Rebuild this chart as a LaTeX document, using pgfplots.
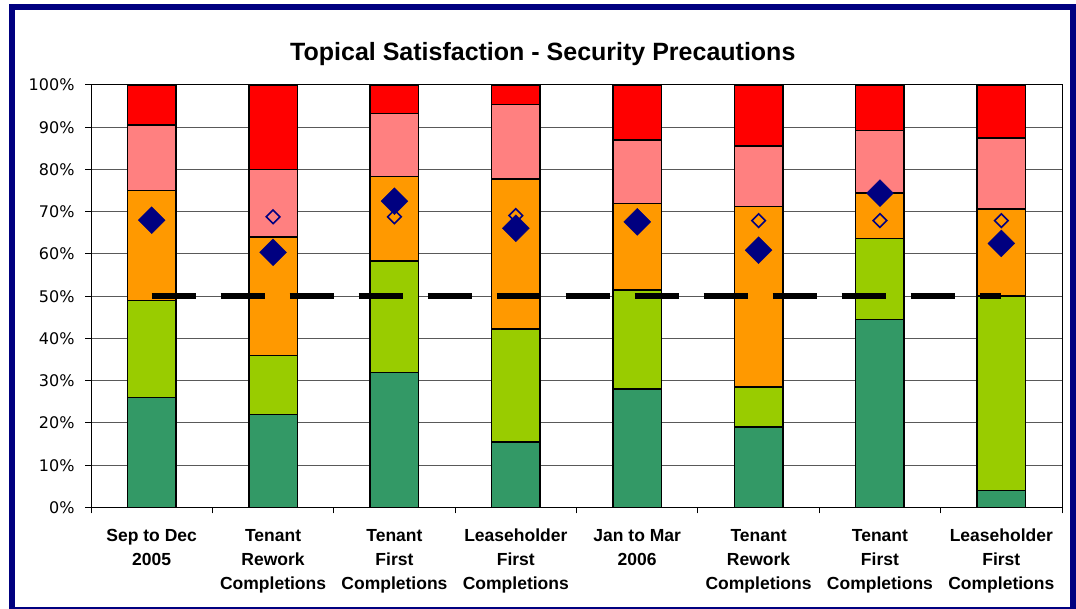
\documentclass[border=0pt]{standalone}
\usepackage{pgfplots}
\pgfplotsset{compat=1.18}
\usepackage{fontspec}
\setmainfont{Liberation Sans}
\newfontfamily\dejavu{DejaVu Sans}
\definecolor{navyc}{RGB}{0,0,128}
\definecolor{dgreen}{HTML}{339966}
\definecolor{ygreen}{HTML}{99CC00}
\definecolor{orangec}{HTML}{FF9900}
\definecolor{pinkc}{HTML}{FF8080}
\definecolor{redc}{HTML}{FF0000}
\begin{document}
\begin{tikzpicture}[x=1bp,y=1bp]
\useasboundingbox (0,0) rectangle (1076,609);
\fill[white] (0,0) rectangle (1076,609);
\pgfplotsset{base/.style={at={(91bp,101.5bp)}, anchor=south west, scale only axis,
  width=971bp, height=422.5bp, xmin=0.5, xmax=8.5, ymin=0, ymax=100, enlargelimits=false}}
\begin{axis}[base, ybar stacked, bar width=0.40,
  axis line style={black, line width=1bp},
  ymajorgrids, grid style={black!65, line width=1bp},
  ytick={0,10,...,100},
  yticklabels={0\%,10\%,20\%,30\%,40\%,50\%,60\%,70\%,80\%,90\%,100\%},
  yticklabel style={font=\dejavu\fontsize{16bp}{19bp}\selectfont, xshift=-7bp},
  xtick={0.5,1.5,...,8.5}, xticklabel={\phantom{0}},
  tick align=outside, major tick length=6bp, tick style={black, line width=1bp},
  ytick pos=left, xtick pos=bottom,
  extra x ticks={1,2,3,4,5,6,7,8},
  extra x tick style={major tick length=0pt},
  extra x tick labels={{Sep to Dec\\2005},{Tenant\\Rework\\Completions},{Tenant\\First\\Completions},{Leaseholder\\First\\Completions},{Jan to Mar\\2006},{Tenant\\Rework\\Completions},{Tenant\\First\\Completions},{Leaseholder\\First\\Completions}},
  xticklabel style={align=center, font=\bfseries\fontsize{17.5bp}{24bp}\selectfont, yshift=-18bp},
]
\addplot[fill=dgreen, draw=black, line width=1.5bp] coordinates {(1,26)(2,22)(3,32)(4,15.5)(5,28)(6,19)(7,44.5)(8,4)};
\addplot[fill=ygreen, draw=black, line width=1.5bp] coordinates {(1,23)(2,14)(3,26.3)(4,26.7)(5,23.5)(6,9.5)(7,19.2)(8,46)};
\addplot[fill=orangec, draw=black, line width=1.5bp] coordinates {(1,26)(2,28)(3,20)(4,35.5)(5,20.5)(6,42.7)(7,10.7)(8,20.7)};
\addplot[fill=pinkc, draw=black, line width=1.5bp] coordinates {(1,15.5)(2,16)(3,15)(4,17.7)(5,15)(6,14.4)(7,14.8)(8,16.7)};
\addplot[fill=redc, draw=black, line width=1.5bp] coordinates {(1,9.5)(2,20)(3,6.7)(4,4.6)(5,13)(6,14.4)(7,10.8)(8,12.6)};
\end{axis}
\begin{axis}[base, hide axis]
\addplot[black, line width=6.5bp, dash pattern=on 44bp off 25bp] coordinates {(1,50)(8,50)};
\addplot[only marks, mark=square, mark size=4.8bp, mark options={rotate=45, draw=navyc, line width=1.6bp, fill=none}] coordinates {(2,68.8)(3,68.8)(4,69.1)(6,67.9)(7,67.9)(8,67.9)};
\addplot[only marks, mark=square*, mark size=9.5bp, mark options={rotate=45, fill=navyc, draw=navyc}] coordinates {(1,68)(2,60.4)(3,72.5)(4,66.1)(5,67.6)(6,60.9)(7,74.4)(8,62.5)};
\end{axis}
\draw[navyc, line width=6bp] (12,-0.7) rectangle (1073,602);
\node[font=\bfseries\fontsize{25bp}{30bp}\selectfont, anchor=base] at (542.8,548) {Topical Satisfaction - Security Precautions};
\end{tikzpicture}
\end{document}
